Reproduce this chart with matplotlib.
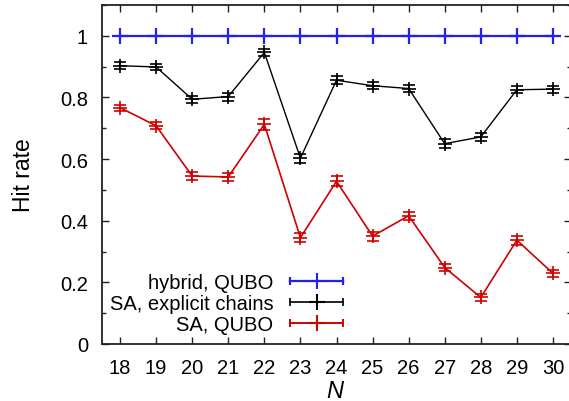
import numpy as np
import matplotlib
matplotlib.use("Agg")
import matplotlib.pyplot as plt
from matplotlib.lines import Line2D
from matplotlib.legend_handler import HandlerLine2D, HandlerTuple
from matplotlib.ticker import MultipleLocator

plt.rcParams['font.family'] = ['Liberation Sans', 'DejaVu Sans']

N = [18, 19, 20, 21, 22, 23, 24, 25, 26, 27, 28, 29, 30]

hybrid_qubo = [1, 1, 1, 1, 1, 1, 1, 1, 1, 1, 1, 1, 1]

sa_chains = [0.903, 0.899, 0.794, 0.803, 0.946, 0.603, 0.856, 0.838, 0.829,
             0.650, 0.672, 0.825, 0.827]
sa_chains_err = [0.012, 0.011, 0.012, 0.013, 0.010, 0.015, 0.013, 0.012, 0.012,
                 0.015, 0.012, 0.011, 0.011]

sa_qubo = [0.767, 0.708, 0.545, 0.542, 0.713, 0.345, 0.528, 0.350, 0.416,
           0.248, 0.151, 0.337, 0.229]
sa_qubo_err = [0.010, 0.011, 0.012, 0.012, 0.018, 0.015, 0.016, 0.015, 0.013,
               0.012, 0.011, 0.015, 0.012]

labels = ["hybrid, QUBO", "SA, explicit chains", "SA, QUBO"]

blue = "#2020f0"
black = "#000000"
red = "#d00000"
fs = 14.5

fig = plt.figure(figsize=(5.69, 4.02), dpi=100)
ax = fig.add_axes([102 / 569, 1 - 345 / 402, 469 / 569, 339 / 402])

ax.errorbar(N, hybrid_qubo, color=blue, lw=1.6, marker='+', ms=11, mew=1.6)
ax.errorbar(N, sa_chains, yerr=sa_chains_err, color=black, lw=1.0, marker='+',
            ms=10, mew=1.2, capsize=4.5, elinewidth=1.2, capthick=1.2)
ax.errorbar(N, sa_qubo, yerr=sa_qubo_err, color=red, lw=1.2, marker='+',
            ms=10, mew=1.2, capsize=4.5, elinewidth=1.2, capthick=1.2)

ax.set_xlim(17.5, 30.5)
ax.set_ylim(0, 1.1)
ax.set_xticks(N)
ax.set_yticks(np.arange(0, 1.01, 0.2))
ax.set_yticklabels(['0', '0.2', '0.4', '0.6', '0.8', '1'])
ax.yaxis.set_minor_locator(MultipleLocator(0.1))

ax.tick_params(which='both', direction='in', top=True, right=True,
               labelsize=fs, pad=10, color='#222222')
ax.tick_params(which='major', length=5, width=1)
ax.tick_params(which='minor', length=3, width=1)
for s in ax.spines.values():
    s.set_linewidth(1.3)
    s.set_color('#222222')

ax.set_ylabel("Hit rate", fontsize=16.5)
ax.yaxis.set_label_coords(-0.143, 0.5)
ax.set_xlabel("N", fontsize=17, style='italic')
ax.xaxis.set_label_coords(0.497, -0.104)

# legend in gnuplot style: text, then line with caps and a cross
handles = []
hmap = {tuple: HandlerTuple(ndivide=1, pad=0)}
for c, lw in [(blue, 1.6), (black, 1.2), (red, 1.4)]:
    caps = Line2D([], [], color=c, lw=lw, marker='|', ms=6, mew=lw)
    plus = Line2D([], [], color=c, lw=0, marker='+', ms=11, mew=1.5)
    hmap[caps] = HandlerLine2D(numpoints=2, marker_pad=0)
    hmap[plus] = HandlerLine2D(numpoints=1)
    handles.append((caps, plus))

ax.legend(handles, labels, handler_map=hmap, markerfirst=False, frameon=False,
          loc='center right', bbox_to_anchor=(0.535, 0.12), borderpad=0,
          handlelength=2.6, handletextpad=0.85, labelspacing=0.1, fontsize=fs)

fig.savefig("out.png", dpi=100)
